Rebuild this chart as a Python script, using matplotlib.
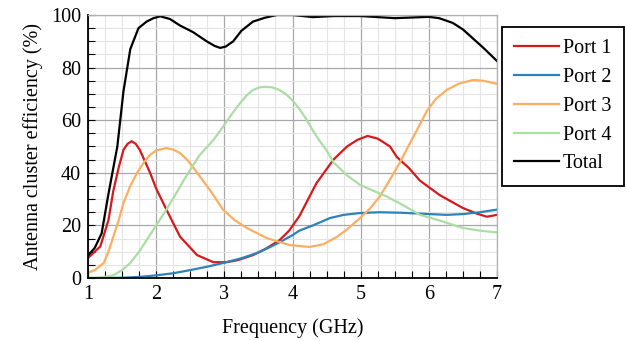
import matplotlib
matplotlib.use('Agg')
import matplotlib.pyplot as plt
from matplotlib.ticker import MultipleLocator

plt.rcParams['font.family'] = ['Liberation Serif', 'DejaVu Serif']

# efficiency (%)
f_total = [1.0, 1.1, 1.2, 1.3, 1.43, 1.52, 1.62, 1.74, 1.86, 1.96, 2.06, 2.2, 2.35, 2.54, 2.74, 2.86, 2.94,
           3.02, 3.13, 3.25, 3.42, 3.6, 3.77, 4.0, 4.3, 4.6, 5.0, 5.5, 6.0, 6.15, 6.35, 6.5, 6.65, 6.8, 7.0]
total = [8.5, 11.5, 17, 32, 50, 71, 87, 95, 97.5, 98.8, 99.5, 98.5, 96, 93.5, 90, 88.2, 87.5,
         88, 90, 94, 97.5, 99, 100, 100, 99.2, 99.6, 99.6, 98.8, 99.3, 98.8, 97, 94.5, 91, 87.5, 82.5]

f_p1 = [1.0, 1.18, 1.3, 1.37, 1.45, 1.52, 1.58, 1.64, 1.7, 1.76, 1.91, 2.0, 2.15, 2.35, 2.6, 2.84, 3.03,
        3.2, 3.42, 3.6, 3.81, 3.95, 4.1, 4.35, 4.6, 4.8, 4.95, 5.1, 5.25, 5.43, 5.53, 5.7, 5.87,
        6.16, 6.5, 6.7, 6.85, 7.0]
port1 = [7.6, 12, 22, 33, 42, 48.7, 51, 52, 51, 48.7, 40, 34, 26, 15.7, 8.7, 6, 6,
         6.8, 8.7, 11, 14.4, 18, 23.5, 36, 45, 50, 52.5, 54, 53, 50, 46, 42, 37,
         31.5, 26.6, 24.5, 23.3, 24]

f_p2 = [1.0, 1.25, 1.5, 1.75, 2.0, 2.25, 2.5, 2.75, 2.98, 3.25, 3.48, 3.65, 3.82, 4.0, 4.1, 4.3, 4.55,
        4.75, 4.99, 5.28, 5.6, 6.01, 6.26, 6.5, 6.75, 7.0]
port2 = [0, 0, 0.1, 0.4, 1, 1.8, 3, 4.3, 5.7, 7.5, 9.5, 11.5, 13.7, 16.3, 18, 20, 22.8,
         24, 24.7, 25, 24.8, 24.3, 24, 24.3, 25, 26]

f_p3 = [1.0, 1.1, 1.23, 1.3, 1.37, 1.45, 1.52, 1.62, 1.72, 1.82, 1.91, 2.0, 2.15, 2.25, 2.35, 2.47, 2.6,
        2.8, 2.98, 3.15, 3.33, 3.62, 3.96, 4.25, 4.45, 4.65, 4.8, 4.99, 5.14, 5.28, 5.42, 5.57,
        5.67, 5.82, 5.97, 6.1, 6.26, 6.45, 6.65, 6.8, 7.0]
port3 = [2, 3, 5.7, 10, 15.6, 22, 28.5, 35, 40, 44, 46.8, 48.5, 49.4, 48.8, 47.5, 44.5, 40,
         33, 26, 22, 19, 15.2, 12.5, 11.8, 12.8, 15.6, 18.5, 22.8, 26.5, 31, 37, 43.7,
         48.7, 56, 63.5, 68, 71.5, 74, 75.3, 75, 73.8]

f_p4 = [1.0, 1.2, 1.37, 1.5, 1.62, 1.75, 1.86, 2.0, 2.15, 2.3, 2.4, 2.52, 2.64, 2.84, 2.98, 3.1, 3.23,
        3.33, 3.42, 3.52, 3.6, 3.7, 3.81, 3.92, 4.0, 4.1, 4.2, 4.3, 4.4, 4.5, 4.6, 4.8, 4.99,
        5.2, 5.38, 5.6, 5.87, 6.2, 6.5, 6.75, 7.0]
port4 = [0, 0.2, 1, 3, 5.7, 10, 14.4, 20, 26, 32.5, 37, 42, 46.8, 52.5, 57.5, 62, 66.5,
         69.5, 71.5, 72.5, 72.7, 72.5, 71.5, 69.5, 67.5, 64.3, 60.5, 56, 52, 48.5, 44, 39, 35.4,
         33, 31, 28, 24, 21.5, 19, 18, 17.3]

series = [
    ('Port 1', f_p1, port1, '#d7191c'),
    ('Port 2', f_p2, port2, '#2b83ba'),
    ('Port 3', f_p3, port3, '#fdae61'),
    ('Port 4', f_p4, port4, '#abdda4'),
    ('Total', f_total, total, 'black'),
]

fs = 14.5

fig = plt.figure(figsize=(6.26, 3.41), dpi=100)
ax = fig.add_axes([0.1406, 0.1848, 0.6534, 0.7712])

for name, f, v, c in series:
    ax.plot(f, v, color=c, lw=1.6, label=name, solid_joinstyle='round')

ax.set_xlim(1, 7)
ax.set_ylim(0, 100)
ax.xaxis.set_major_locator(MultipleLocator(1))
ax.xaxis.set_minor_locator(MultipleLocator(0.25))
ax.yaxis.set_major_locator(MultipleLocator(20))
ax.yaxis.set_minor_locator(MultipleLocator(5))
ax.grid(which='major', color='#a8a8a8', lw=0.9)
ax.grid(which='minor', color='#e4e4e4', lw=0.8)
ax.set_axisbelow(True)

ax.tick_params(which='both', direction='in', top=False, right=False, labelsize=fs, color='black')
ax.tick_params(which='major', length=5, width=0.8, pad=5)
ax.tick_params(which='minor', length=5, width=0.8)

for s in ['left', 'bottom']:
    ax.spines[s].set_color('black')
    ax.spines[s].set_linewidth(1.3)
for s in ['top', 'right']:
    ax.spines[s].set_color('#b0b0b0')
    ax.spines[s].set_linewidth(0.9)

ax.set_xlabel('Frequency (GHz)', fontsize=fs, labelpad=10)
ax.set_ylabel('Antenna cluster efficiency (%)', fontsize=fs, labelpad=6)

leg = ax.legend(loc='upper left', bbox_to_anchor=(1.012, 0.955), fontsize=fs, frameon=True,
                fancybox=False, framealpha=1, edgecolor='black', borderaxespad=0,
                handlelength=2.2, handletextpad=0.2, labelspacing=0.48, borderpad=0.62)
leg.get_frame().set_linewidth(1.3)

fig.savefig('out.png', dpi=100)
